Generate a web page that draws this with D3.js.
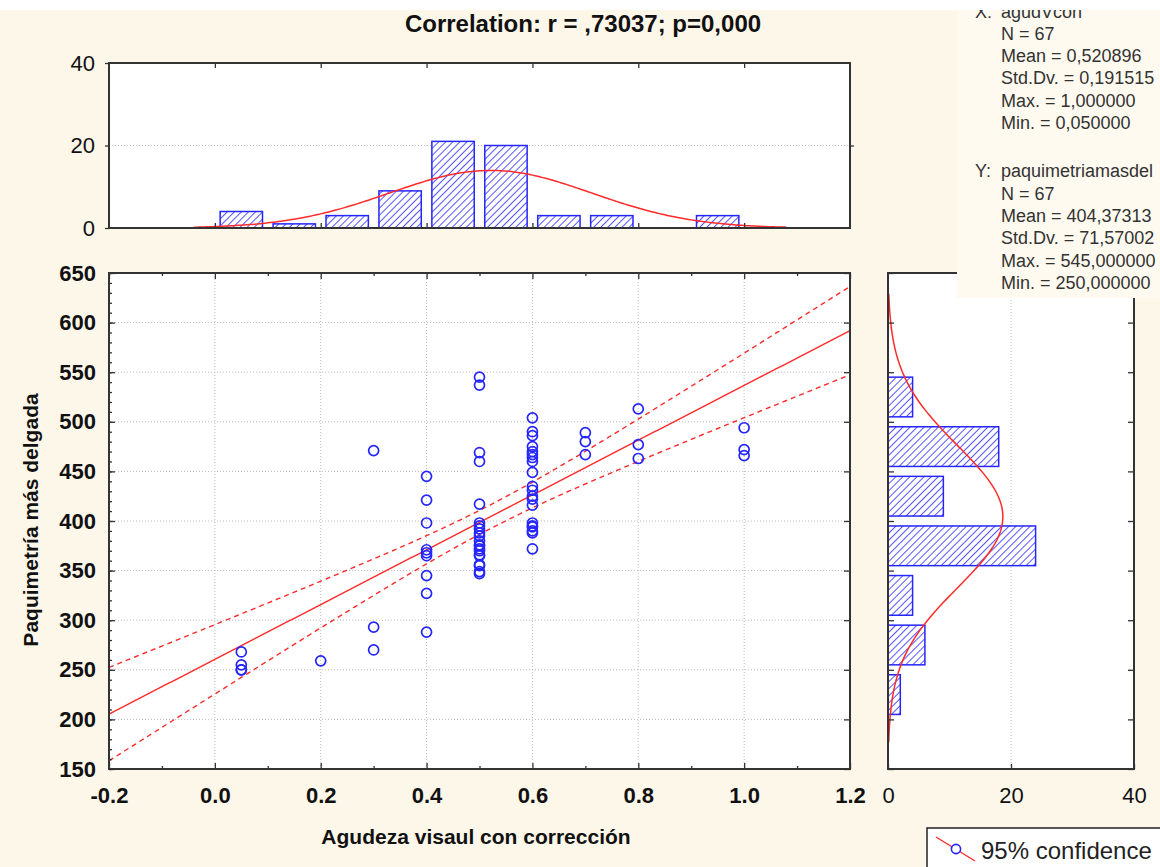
<!DOCTYPE html>
<html>
<head>
<meta charset="utf-8">
<script src="https://cdn.jsdelivr.net/npm/d3@7"></script>
<style>
  body { margin: 0; background: #fdf7ea; }
  text { font-family: "Liberation Sans", Arial, sans-serif; }
</style>
</head>
<body>
<script>
// one entry per patient (N = 67)
var agudeza = [0.05, 0.05, 0.05, 0.05,
  0.2,
  0.3, 0.3, 0.3,
  0.4, 0.4, 0.4, 0.4, 0.4, 0.4, 0.4, 0.4, 0.4,
  0.5, 0.5, 0.5, 0.5, 0.5, 0.5, 0.5, 0.5, 0.5, 0.5, 0.5, 0.5, 0.5, 0.5, 0.5, 0.5, 0.5, 0.5, 0.5, 0.5, 0.5,
  0.6, 0.6, 0.6, 0.6, 0.6, 0.6, 0.6, 0.6, 0.6, 0.6, 0.6, 0.6, 0.6, 0.6, 0.6, 0.6, 0.6, 0.6, 0.6, 0.6,
  0.7, 0.7, 0.7,
  0.8, 0.8, 0.8,
  1.0, 1.0, 1.0];
var paquimetria = [268, 255, 250, 250,
  259,
  471, 293, 270,
  445, 421, 398, 371, 368, 365, 345, 327, 288,
  545, 537, 469, 460, 417, 398, 395, 392, 388, 385, 380, 376, 375, 372, 370, 366, 365, 356, 355, 349, 347,
  504, 490, 486, 475, 470, 467, 464, 460, 449, 435, 431, 425, 422, 416, 398, 395, 394, 390, 388, 372,
  489, 480, 467,
  513, 477, 463,
  494, 472, 466];

// histogram of x: bins of 0.1 starting at xBinLo
var xBinLo = [0.0, 0.1, 0.2, 0.3, 0.4, 0.5, 0.6, 0.7, 0.8, 0.9];
var xBinCounts = [4, 1, 3, 9, 21, 20, 3, 3, 0, 3];
// histogram of y: bins of 50 starting at yBinLo
var yBinLo = [200, 250, 300, 350, 400, 450, 500];
var yBinCounts = [2, 6, 4, 24, 9, 18, 4];

// stats box, as far as it is visible in the window
var xStats = ["N = 67", "Mean = 0,520896", "Std.Dv. = 0,191515", "Max. = 1,000000", "Min. = 0,050000"];
var yStats = ["N = 67", "Mean = 404,37313", "Std.Dv. = 71,57002", "Max. = 545,000000", "Min. = 250,000000"];
var xMean = 0.520896, xSd = 0.191515, yMean = 404.373134, ySd = 71.570026;

var W = 1160, H = 867;
var svg = d3.select("body").append("svg").attr("width", W).attr("height", H);
svg.append("rect").attr("width", W).attr("height", H).attr("fill", "#fdf7ea");

var x = d3.scaleLinear().domain([-0.2, 1.2]).range([109, 850]);
var y = d3.scaleLinear().domain([150, 650]).range([769, 273]);
var yTop = d3.scaleLinear().domain([0, 40]).range([228, 63]);
var xRight = d3.scaleLinear().domain([0, 40]).range([888, 1134]);

var defs = svg.append("defs");
var pat = defs.append("pattern").attr("id", "hatch").attr("patternUnits", "userSpaceOnUse")
    .attr("width", 5).attr("height", 5).attr("patternTransform", "rotate(45)");
pat.append("rect").attr("width", 5).attr("height", 5).attr("fill", "#fff");
pat.append("line").attr("x1", 0).attr("y1", 0).attr("x2", 0).attr("y2", 5)
    .attr("stroke", "#2a2aff").attr("stroke-width", 1.6);
defs.append("clipPath").attr("id", "clipMain").append("rect")
    .attr("x", 109).attr("y", 273).attr("width", 741).attr("height", 496);

var red = "#ff2a2a", blue = "#2525ff", frameCol = "#333";

// plot backgrounds
function panel(x0, y0, x1, y1) {
  svg.append("rect").attr("x", x0).attr("y", y0).attr("width", x1 - x0).attr("height", y1 - y0)
    .attr("fill", "#fff");
}
panel(109, 273, 850, 769);
panel(109, 63, 850, 228);
panel(888, 273, 1134, 769);

function grid(g) {
  g.attr("stroke", "#bdbdbd").attr("stroke-width", 1).attr("stroke-dasharray", "1,2");
}
var gridMain = svg.append("g").call(grid);
gridMain.selectAll(".gx").data(x.ticks(7).slice(1, -1)).enter().append("line")
    .attr("x1", function(d) { return x(d); }).attr("x2", function(d) { return x(d); })
    .attr("y1", 273).attr("y2", 769);
gridMain.selectAll(".gy").data(y.ticks(10).slice(1, -1)).enter().append("line")
    .attr("y1", function(d) { return y(d); }).attr("y2", function(d) { return y(d); })
    .attr("x1", 109).attr("x2", 850);
var gridTop = svg.append("g").call(grid);
gridTop.append("line").attr("x1", 109).attr("x2", 850).attr("y1", yTop(20)).attr("y2", yTop(20));
var gridRight = svg.append("g").call(grid);
gridRight.append("line").attr("x1", xRight(20)).attr("x2", xRight(20)).attr("y1", 273).attr("y2", 769);

// top histogram
var bw = 0.1;
svg.append("g").selectAll("rect").data(xBinLo).enter().append("rect")
    .filter(function(d, i) { return xBinCounts[i] > 0; })
    .attr("x", function(d) { return x(d + bw * 0.1); })
    .attr("width", function(d) { return x(d + bw * 0.9) - x(d + bw * 0.1); })
    .attr("y", function(d) { return yTop(xBinCounts[xBinLo.indexOf(d)]); })
    .attr("height", function(d) { return yTop(0) - yTop(xBinCounts[xBinLo.indexOf(d)]); })
    .attr("fill", "url(#hatch)").attr("stroke", blue).attr("stroke-width", 1.5);

function npdf(v, m, s) { return Math.exp(-0.5 * Math.pow((v - m) / s, 2)) / (s * Math.sqrt(2 * Math.PI)); }
var n = agudeza.length;
var topCurve = d3.range(-0.04, 1.081, 0.005).map(function(v) { return [v, n * bw * npdf(v, xMean, xSd)]; });
svg.append("path").datum(topCurve)
    .attr("d", d3.line().x(function(d) { return x(d[0]); }).y(function(d) { return yTop(d[1]); }))
    .attr("fill", "none").attr("stroke", red).attr("stroke-width", 1.5);

// right histogram
var bh = 50;
svg.append("g").selectAll("rect").data(yBinLo).enter().append("rect")
    .attr("x", xRight(0))
    .attr("y", function(d) { return y(d + bh * 0.9); })
    .attr("height", function(d) { return y(d + bh * 0.1) - y(d + bh * 0.9); })
    .attr("width", function(d, i) { return xRight(yBinCounts[i]) - xRight(0); })
    .attr("fill", "url(#hatch)").attr("stroke", blue).attr("stroke-width", 1.5);

var rightCurve = d3.range(177, 631, 2).map(function(v) { return [v, n * bh * npdf(v, yMean, ySd)]; });
svg.append("path").datum(rightCurve)
    .attr("d", d3.line().x(function(d) { return xRight(d[1]); }).y(function(d) { return y(d[0]); }))
    .attr("fill", "none").attr("stroke", red).attr("stroke-width", 1.5);

// regression + 95% confidence band
var mx = d3.mean(agudeza), my = d3.mean(paquimetria);
var sxx = d3.sum(agudeza, function(d) { return (d - mx) * (d - mx); });
var sxy = d3.sum(agudeza, function(d, i) { return (d - mx) * (paquimetria[i] - my); });
var b = sxy / sxx, a = my - b * mx;
var sse = d3.sum(agudeza, function(d, i) { var r = paquimetria[i] - (a + b * d); return r * r; });
var se = Math.sqrt(sse / (n - 2)), tval = 1.997;
var xs = d3.range(-0.2, 1.2001, 0.01);
function band(sign) {
  return xs.map(function(v) {
    var h = tval * se * Math.sqrt(1 / n + (v - mx) * (v - mx) / sxx);
    return [v, a + b * v + sign * h];
  });
}
var line = d3.line().x(function(d) { return x(d[0]); }).y(function(d) { return y(d[1]); });
var fitG = svg.append("g").attr("clip-path", "url(#clipMain)");
fitG.append("path").datum(band(0)).attr("d", line)
    .attr("fill", "none").attr("stroke", red).attr("stroke-width", 1.4);
[1, -1].forEach(function(s) {
  fitG.append("path").datum(band(s)).attr("d", line)
    .attr("fill", "none").attr("stroke", red).attr("stroke-width", 1.4).attr("stroke-dasharray", "5,4");
});

// scatter
svg.append("g").selectAll("circle").data(agudeza).enter().append("circle")
    .attr("cx", function(d) { return x(d); })
    .attr("cy", function(d, i) { return y(paquimetria[i]); })
    .attr("r", 5)
    .attr("fill", "none").attr("stroke", blue).attr("stroke-width", 1.7);

// axes and frames
function clean(g, labelSize, bold) {
  g.select(".domain").remove();
  g.selectAll(".tick line").attr("stroke", frameCol).attr("stroke-width", 1.3);
  g.selectAll("text").attr("font-size", labelSize).attr("font-weight", bold ? "bold" : "normal")
    .attr("fill", "#111").attr("font-family", '"Liberation Sans", Arial, sans-serif');
}
var fmt1 = function(d) { return d.toFixed(1); };
var minorX = [-0.1, 0.1, 0.3, 0.5, 0.7, 0.9, 1.1];

svg.append("g").attr("transform", "translate(0,769)")
    .call(d3.axisBottom(x).ticks(7).tickSize(-6).tickPadding(18).tickFormat(fmt1))
    .call(clean, 22, true);
svg.append("g").attr("transform", "translate(0,769)")
    .call(d3.axisBottom(x).tickValues(minorX).tickSize(-3).tickFormat(""))
    .call(clean, 22, true);
svg.append("g").attr("transform", "translate(0,273)")
    .call(d3.axisTop(x).ticks(7).tickSize(-6).tickFormat(""))
    .call(clean, 22, true);
svg.append("g").attr("transform", "translate(0,273)")
    .call(d3.axisTop(x).tickValues(minorX).tickSize(-3).tickFormat(""))
    .call(clean, 22, true);
svg.append("g").attr("transform", "translate(109,0)")
    .call(d3.axisLeft(y).ticks(10).tickSize(-6).tickPadding(13))
    .call(clean, 22, true);
svg.append("g").attr("transform", "translate(109,0)")
    .call(d3.axisLeft(y).ticks(50).tickSize(-3).tickFormat(""))
    .call(clean, 22, true);
svg.append("g").attr("transform", "translate(850,0)")
    .call(d3.axisRight(y).ticks(10).tickSize(-6).tickFormat(""))
    .call(clean, 22, true);

// top histogram axes
svg.append("g").attr("transform", "translate(109,0)")
    .call(d3.axisLeft(yTop).tickValues([0, 20, 40]).tickSize(4).tickPadding(10))
    .call(clean, 22, false);
svg.append("g").attr("transform", "translate(850,0)")
    .call(d3.axisRight(yTop).tickValues([20]).tickSize(4).tickFormat(""))
    .call(clean, 22, false);
svg.append("g").attr("transform", "translate(0,63)")
    .call(d3.axisTop(x).tickValues([0, 0.2, 0.4, 0.6, 0.8, 1.0]).tickSize(-5).tickFormat(""))
    .call(clean, 22, false);
svg.append("g").attr("transform", "translate(0,228)")
    .call(d3.axisBottom(x).tickValues([0, 0.2, 0.4, 0.6, 0.8, 1.0]).tickSize(-5).tickFormat(""))
    .call(clean, 22, false);

// right histogram axes
svg.append("g").attr("transform", "translate(0,769)")
    .call(d3.axisBottom(xRight).tickValues([0, 20, 40]).tickSize(-5).tickPadding(18))
    .call(clean, 22, false);
svg.append("g").attr("transform", "translate(888,0)")
    .call(d3.axisLeft(y).ticks(10).tickSize(-6).tickFormat(""))
    .call(clean, 22, false);
svg.append("g").attr("transform", "translate(1134,0)")
    .call(d3.axisRight(y).ticks(10).tickSize(-6).tickFormat(""))
    .call(clean, 22, false);

function frame(x0, y0, x1, y1) {
  svg.append("rect").attr("x", x0).attr("y", y0).attr("width", x1 - x0).attr("height", y1 - y0)
    .attr("fill", "none").attr("stroke", frameCol).attr("stroke-width", 2);
}
frame(109, 273, 850, 769);
frame(109, 63, 850, 228);
frame(888, 273, 1134, 769);

// titles
svg.append("text").attr("x", 583).attr("y", 32).attr("text-anchor", "middle")
    .attr("font-size", 24).attr("font-weight", "bold").attr("fill", "#111")
    .text("Correlation: r = ,73037; p=0,000");
svg.append("text").attr("x", 476).attr("y", 844).attr("text-anchor", "middle")
    .attr("font-size", 21).attr("font-weight", "bold").attr("fill", "#111")
    .text("Agudeza visaul con corrección");
svg.append("text").attr("transform", "translate(38,520) rotate(-90)").attr("text-anchor", "middle")
    .attr("font-size", 21).attr("font-weight", "bold").attr("fill", "#111")
    .text("Paquimetría más delgada");

// stats box
svg.append("rect").attr("x", 957).attr("y", 0).attr("width", 210).attr("height", 298).attr("fill", "#fffaf0");
var sb = svg.append("g").attr("font-size", 18).attr("fill", "#333");
sb.append("text").attr("x", 975).attr("y", 18).text("X:");
sb.append("text").attr("x", 1001).attr("y", 18).text("agudVcon");
sb.selectAll(".xs").data(xStats).enter().append("text")
    .attr("x", 1001).attr("y", function(d, i) { return 40 + i * 22.2; }).text(function(d) { return d; });
sb.append("text").attr("x", 975).attr("y", 177).text("Y:");
sb.append("text").attr("x", 1001).attr("y", 177).text("paquimetriamasdel");
sb.selectAll(".ys").data(yStats).enter().append("text")
    .attr("x", 1001).attr("y", function(d, i) { return 200 + i * 22.2; }).text(function(d) { return d; });
svg.append("rect").attr("x", 0).attr("y", 0).attr("width", W).attr("height", 10).attr("fill", "#fff");

// legend
svg.append("rect").attr("x", 927).attr("y", 828).attr("width", 250).attr("height", 50)
    .attr("fill", "#fff").attr("stroke", "#222").attr("stroke-width", 1.5);
svg.append("line").attr("x1", 936).attr("y1", 837).attr("x2", 975).attr("y2", 861)
    .attr("stroke", red).attr("stroke-width", 1.4);
svg.append("circle").attr("cx", 956).attr("cy", 849).attr("r", 4.6)
    .attr("fill", "#fff").attr("stroke", blue).attr("stroke-width", 1.6);
svg.append("text").attr("x", 981).attr("y", 859).attr("font-size", 24).attr("fill", "#222")
    .text("95% confidence");
</script>
</body>
</html>
